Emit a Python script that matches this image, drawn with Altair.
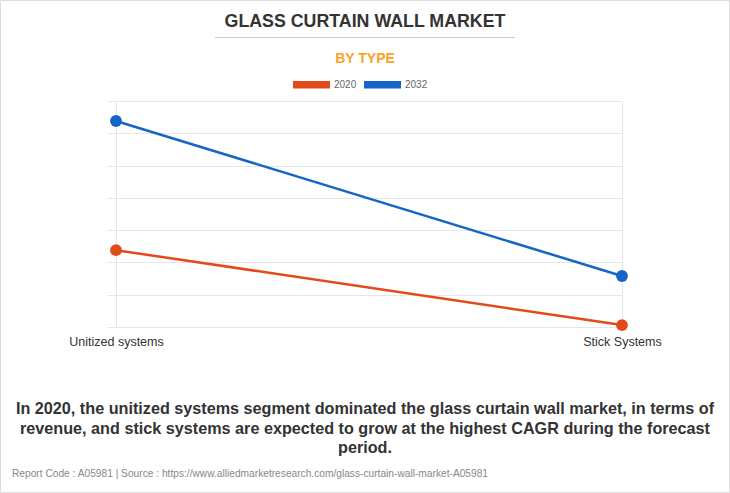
import altair as alt
import pandas as pd

categories = ["Unitized systems", "Stick Systems"]
years = ["2020", "2032"]
v2020 = [2.38, 0.06]
v2032 = [6.38, 1.58]
colors = ["#E34A1A", "#1565C8"]
grid_values = [0, 1, 2, 3, 4, 5, 6, 7]

title_text = "GLASS CURTAIN WALL MARKET"
subtitle_text = "BY TYPE"
caption_lines = [
    "In 2020, the unitized systems segment dominated the glass curtain wall market, in terms of",
    "revenue, and stick systems are expected to grow at the highest CAGR during the forecast",
    "period.",
]
footer_text = "Report Code : A05981  |  Source : https://www.alliedmarketresearch.com/glass-curtain-wall-market-A05981"

rows = []
for i, c in enumerate(categories):
    rows.append({"type": c, "year": years[0], "value": v2020[i]})
    rows.append({"type": c, "year": years[1], "value": v2032[i]})
df = pd.DataFrame(rows)

one = pd.DataFrame({"k": [0]})

x_enc = alt.X("type:N", sort=categories, title=None,
              scale=alt.Scale(type="point", padding=0),
              axis=alt.Axis(labelAngle=0, labelFontSize=12.5, labelColor="#333333",
                            labelFont="Liberation Sans", labelPadding=8, ticks=False,
                            domain=False, grid=True, gridColor="#e6e6e6"))
y_enc = alt.Y("value:Q", title=None,
              scale=alt.Scale(domain=[0, 7], nice=False, zero=True),
              axis=alt.Axis(labels=False, domain=False, values=grid_values, tickCount=8,
                            grid=True, gridColor="#e6e6e6", tickColor="#e6e6e6", tickSize=9))

lines = alt.Chart(df).mark_line(strokeWidth=2.5).encode(
    x=x_enc, y=y_enc,
    stroke=alt.Stroke("year:N", scale=alt.Scale(domain=years, range=colors), legend=None),
)
points = alt.Chart(df).mark_point(filled=True, size=140, opacity=1).encode(
    x=x_enc, y=y_enc,
    color=alt.Color("year:N", scale=alt.Scale(domain=years, range=colors),
                    legend=alt.Legend(title=None, orient="none", direction="horizontal",
                                      legendX=177, legendY=-35,
                                      symbolType="M-1,-0.2L1,-0.2L1,0.2L-1,0.2Z",
                                      symbolSize=1369, symbolStrokeWidth=0,
                                      symbolOpacity=1,
                                      labelFontSize=10, labelColor="#666666",
                                      labelFont="Liberation Sans",
                                      labelOffset=4, columnPadding=7)),
)

title = alt.Chart(one).mark_text(fontSize=17.8, fontWeight="bold", font="Liberation Sans",
                                 color="#333333", align="center", baseline="alphabetic").encode(
    x=alt.value(249), y=alt.value(-74), text=alt.value(title_text))
sep = alt.Chart(one).mark_rule(color="#cccccc", strokeWidth=1).encode(
    x=alt.value(99), x2=alt.value(399), y=alt.value(-63.5))
subtitle = alt.Chart(one).mark_text(fontSize=14, fontWeight="bold", font="Liberation Sans",
                                    color="#F7A428", align="center", baseline="alphabetic").encode(
    x=alt.value(249), y=alt.value(-38), text=alt.value(subtitle_text))
caption = alt.Chart(one).mark_text(fontSize=16.2, fontWeight="bold", font="Liberation Sans",
                                   color="#333333", align="center", baseline="alphabetic",
                                   lineHeight=19.5).encode(
    x=alt.value(249), y=alt.value(313), text=alt.value(caption_lines))
footer = alt.Chart(one).mark_text(fontSize=10.2, font="Liberation Sans",
                                  color="#888888", align="left", baseline="alphabetic").encode(
    x=alt.value(-104), y=alt.value(376), text=alt.value(footer_text))
border = alt.Chart(one).mark_rect(fill=None, stroke="#dddddd", strokeWidth=1).encode(
    x=alt.value(-115.5), x2=alt.value(613.5), y=alt.value(-100.5), y2=alt.value(391.5))

chart = alt.layer(border, lines, points, title, sep, subtitle, caption, footer).resolve_scale(
    color="independent"
).properties(
    width=506, height=226,
    autosize=alt.AutoSizeParams(type="none"),
    padding={"left": 116, "top": 101, "right": 108, "bottom": 166},
    background="white",
).configure_view(stroke=None)

chart.save("out.html", embed_options={"renderer": "svg", "actions": False})
